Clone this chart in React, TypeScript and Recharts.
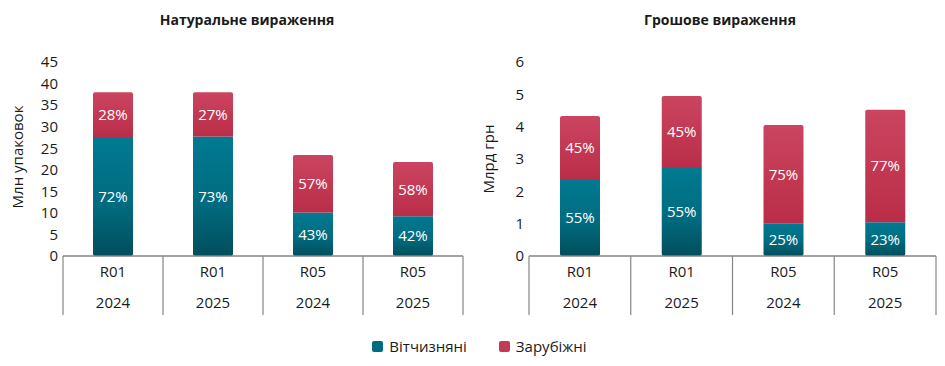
import React from 'react';
import { BarChart, Bar, XAxis, YAxis, LabelList } from 'recharts';

const regions = ['R01', 'R01', 'R05', 'R05'];
const years = ['2024', '2025', '2024', '2025'];

const natDomestic = [27.4, 27.7, 10.1, 9.2];
const natForeign = [10.6, 10.3, 13.3, 12.6];
const natDomesticPct = ['72%', '73%', '43%', '42%'];
const natForeignPct = ['28%', '27%', '57%', '58%'];
const natTicks = [0, 5, 10, 15, 20, 25, 30, 35, 40, 45];

const monDomestic = [2.38, 2.72, 1.01, 1.04];
const monForeign = [1.95, 2.23, 3.04, 3.48];
const monDomesticPct = ['55%', '55%', '25%', '23%'];
const monForeignPct = ['45%', '45%', '75%', '77%'];
const monTicks = [0, 1, 2, 3, 4, 5, 6];

const FONT = '"Open Sans", "Noto Sans", sans-serif';
const TEXT = '#1a1a1a';
const LINE = '#858585';

function build(dom: number[], fr: number[], domPct: string[], frPct: string[]) {
  return regions.map((r, i) => ({
    key: String(i),
    region: r,
    year: years[i],
    dom: dom[i],
    fr: fr[i],
    domPct: domPct[i],
    frPct: frPct[i],
  }));
}

const natData = build(natDomestic, natForeign, natDomesticPct, natForeignPct);
const monData = build(monDomestic, monForeign, monDomesticPct, monForeignPct);

function makeTick(band: number, data: any[]) {
  return (props: any) => {
    const { x, y, index } = props;
    const d = data[index];
    if (!d) return null;
    return (
      <g>
        {index === 0 && (
          <line x1={x - band / 2} y1={y} x2={x - band / 2} y2={y + 59} stroke={LINE} strokeWidth={1.2} />
        )}
        <line x1={x + band / 2} y1={y} x2={x + band / 2} y2={y + 59} stroke={LINE} strokeWidth={1.2} />
        <text x={x} y={y + 21} textAnchor="middle" fontSize={15} fill={TEXT} fontFamily={FONT}>
          {d.region}
        </text>
        <text x={x} y={y + 52} textAnchor="middle" fontSize={15} fill={TEXT} fontFamily={FONT}>
          {d.year}
        </text>
      </g>
    );
  };
}

function Panel(props: {
  id: string;
  data: any[];
  width: number;
  marginLeft: number;
  yWidth: number;
  marginRight: number;
  ticks: number[];
}) {
  const { id, data, width, marginLeft, yWidth, marginRight, ticks } = props;
  const plotW = width - marginLeft - yWidth - marginRight;
  const band = plotW / data.length;
  const max = ticks[ticks.length - 1];
  return (
    <BarChart
      width={width}
      height={320}
      data={data}
      margin={{ top: 62, right: marginRight, bottom: 4, left: marginLeft }}
      barSize={40}
      style={{ fontFamily: FONT }}
    >
      <defs>
        <linearGradient id={id + 'dom'} x1="0" y1="0" x2="0" y2="1">
          <stop offset="0%" stopColor="#007a92" />
          <stop offset="55%" stopColor="#006c80" />
          <stop offset="100%" stopColor="#004e5c" />
        </linearGradient>
        <linearGradient id={id + 'fr'} x1="0" y1="0" x2="0" y2="1">
          <stop offset="0%" stopColor="#cb4560" />
          <stop offset="100%" stopColor="#ba2d48" />
        </linearGradient>
      </defs>
      <XAxis
        dataKey="key"
        height={60}
        axisLine={{ stroke: LINE, strokeWidth: 1.5 }}
        tickLine={false}
        tickSize={0}
        tickMargin={0}
        interval={0}
        tick={makeTick(band, data)}
      />
      <YAxis
        width={yWidth}
        domain={[0, max]}
        ticks={ticks}
        axisLine={false}
        tickLine={false}
        tickSize={0}
        tickMargin={5}
        interval={0}
        tick={{ fontSize: 15, fill: TEXT, fontFamily: FONT }}
      />
      <Bar dataKey="dom" stackId="a" fill={`url(#${id}dom)`} radius={[0, 0, 2, 2]} isAnimationActive={false}>
        <LabelList dataKey="domPct" position="center" fill="#ffffff" fontSize={15} fontFamily={FONT} />
      </Bar>
      <Bar dataKey="fr" stackId="a" fill={`url(#${id}fr)`} radius={[2, 2, 0, 0]} isAnimationActive={false}>
        <LabelList dataKey="frPct" position="center" fill="#ffffff" fontSize={15} fontFamily={FONT} />
      </Bar>
    </BarChart>
  );
}

const abs = (left: number, top: number): React.CSSProperties => ({ position: 'absolute', left, top });

export default function App() {
  return (
    <div style={{ position: 'absolute', left: 0, top: 0, width: 945, height: 366, background: '#fff', fontFamily: FONT, color: TEXT }}>
      <div style={{ ...abs(0, 10), width: 494, textAlign: 'center', fontWeight: 700, fontSize: 14 }}>
        Натуральне вираження
      </div>
      <div style={{ ...abs(480, 10), width: 480, textAlign: 'center', fontWeight: 700, fontSize: 14 }}>
        Грошове вираження
      </div>
      <div
        style={{
          ...abs(17, 157),
          transform: 'translate(-50%, -50%) rotate(-90deg)',
          fontSize: 15,
          whiteSpace: 'nowrap',
        }}
      >
        Млн упаковок
      </div>
      <div
        style={{
          ...abs(488, 159),
          transform: 'translate(-50%, -50%) rotate(-90deg)',
          fontSize: 15,
          whiteSpace: 'nowrap',
        }}
      >
        Млрд грн
      </div>
      <div style={abs(0, 0)}>
        <Panel id="nat" data={natData} width={472} marginLeft={20} yWidth={43} marginRight={9} ticks={natTicks} />
      </div>
      <div style={abs(472, 0)}>
        <Panel id="mon" data={monData} width={473} marginLeft={15} yWidth={42} marginRight={9} ticks={monTicks} />
      </div>
      <div style={{ ...abs(0, 336), width: 945, display: 'flex', justifyContent: 'center', fontSize: 15 }}>
        <div style={{ display: 'flex', alignItems: 'center', marginRight: 32, marginLeft: 14 }}>
          <span style={{ width: 11, height: 11, borderRadius: 2, background: '#006c80', display: 'inline-block', marginRight: 6 }} />
          Вітчизняні
        </div>
        <div style={{ display: 'flex', alignItems: 'center' }}>
          <span style={{ width: 11, height: 11, borderRadius: 2, background: '#c23a55', display: 'inline-block', marginRight: 6 }} />
          Зарубіжні
        </div>
      </div>
    </div>
  );
}
